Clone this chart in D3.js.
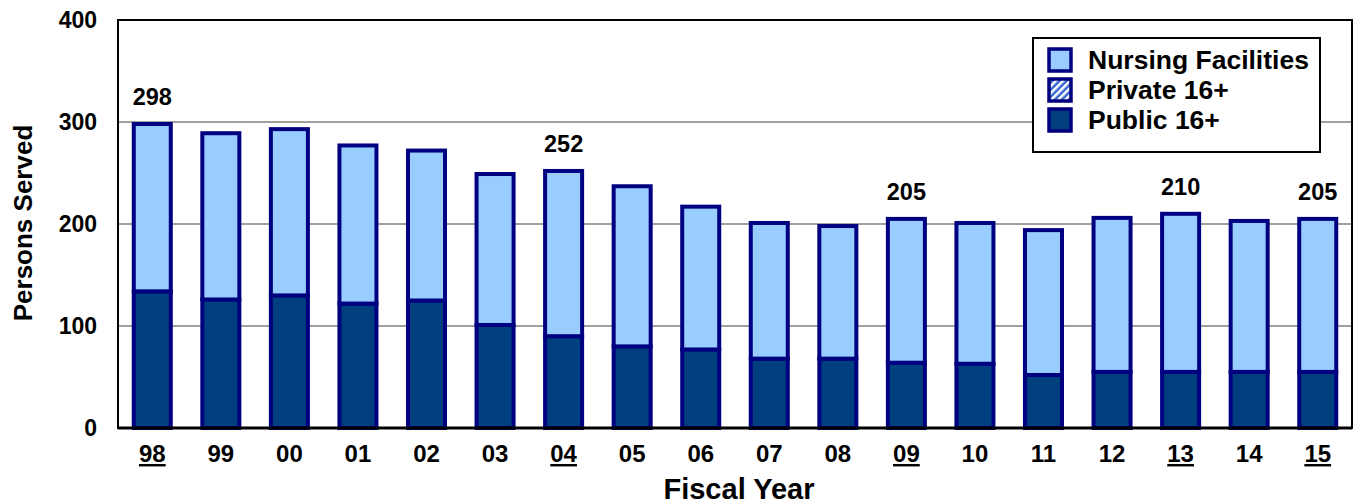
<!DOCTYPE html>
<html>
<head>
<meta charset="utf-8">
<script src="https://cdn.jsdelivr.net/npm/d3@7"></script>
<style>
  body { margin: 0; background: #fff; }
  text { font-family: Arial, "Liberation Sans", sans-serif; font-weight: bold; }
</style>
</head>
<body>
<div id="chart"></div>
<script>
// Data
const years = ["98", "99", "00", "01", "02", "03", "04", "05", "06", "07", "08", "09", "10", "11", "12", "13", "14", "15"];
const publicValues = [134, 126, 130, 122, 125, 101, 90, 80, 77, 68, 68, 64, 63, 52, 55, 55, 55, 55];
const privateValues = [0, 0, 0, 0, 0, 0, 0, 0, 0, 0, 0, 0, 0, 0, 0, 0, 0, 0];
const nursingValues = [164, 163, 163, 155, 147, 148, 162, 157, 140, 133, 130, 141, 138, 142, 151, 155, 148, 150];
const labelledYears = ["98", "04", "09", "13", "15"];
const yTicks = [0, 100, 200, 300, 400];
const seriesNames = ["Nursing Facilities", "Private 16+", "Public 16+"];

// Constants
const WIDTH = 1357;
const HEIGHT = 504;
const MARGIN = {top: 20, right: 5, bottom: 76, left: 118};
const COLOUR_NURSING = "#99ccff";
const COLOUR_PUBLIC = "#003f7f";
const COLOUR_EDGE = "#000080";
const FONT = "Arial, 'Liberation Sans', sans-serif";

let svg = d3.select("#chart")
            .append("svg")
            .attr("width", WIDTH)
            .attr("height", HEIGHT);

// pattern for the private series (hatched)
let defs = svg.append("defs");
let pat = defs.append("pattern")
              .attr("id", "hatch")
              .attr("patternUnits", "userSpaceOnUse")
              .attr("width", 5)
              .attr("height", 5)
              .attr("patternTransform", "rotate(45)");
pat.append("rect").attr("width", 5).attr("height", 5).attr("fill", "#3366cc");
pat.append("rect").attr("width", 2.5).attr("height", 5).attr("fill", "#ffffff");

let x = d3.scaleBand()
          .domain(years)
          .range([MARGIN.left, WIDTH - MARGIN.right])
          .paddingInner(0.46)
          .paddingOuter(0.23);

let y = d3.scaleLinear()
          .domain([0, 400])
          .range([HEIGHT - MARGIN.bottom, MARGIN.top]);

// Gridlines
svg.append("g")
   .selectAll("line")
   .data(yTicks.slice(1, -1))
   .join("line")
   .attr("x1", MARGIN.left)
   .attr("x2", WIDTH - MARGIN.right)
   .attr("y1", d => y(d))
   .attr("y2", d => y(d))
   .attr("stroke", "#808080")
   .attr("stroke-width", 1.5);

// Stack the series
let table = years.map((yr, i) => ({
    year: yr,
    public: publicValues[i],
    private: privateValues[i],
    nursing: nursingValues[i]
}));
let stack = d3.stack().keys(["public", "private", "nursing"]);
let layers = stack(table);
let fills = {public: COLOUR_PUBLIC, private: "url(#hatch)", nursing: COLOUR_NURSING};

svg.append("g")
   .selectAll("g")
   .data(layers)
   .join("g")
   .attr("fill", d => fills[d.key])
   .selectAll("rect")
   .data(d => d.filter(p => p[1] > p[0]))
   .join("rect")
   .attr("x", d => x(d.data.year))
   .attr("width", x.bandwidth())
   .attr("y", d => y(d[1]))
   .attr("height", d => y(d[0]) - y(d[1]))
   .attr("stroke", COLOUR_EDGE)
   .attr("stroke-width", 4);

// Total labels on selected years
svg.append("g")
   .selectAll("text")
   .data(table.filter(d => labelledYears.includes(d.year)))
   .join("text")
   .attr("x", d => x(d.year) + x.bandwidth() / 2)
   .attr("y", d => y(d.public + d.private + d.nursing) - 19)
   .attr("text-anchor", "middle")
   .attr("font-size", 23.5)
   .text(d => d.public + d.private + d.nursing);

// Plot frame
svg.append("rect")
   .attr("x", MARGIN.left)
   .attr("y", MARGIN.top)
   .attr("width", WIDTH - MARGIN.right - MARGIN.left)
   .attr("height", HEIGHT - MARGIN.bottom - MARGIN.top)
   .attr("fill", "none")
   .attr("stroke", "#000")
   .attr("stroke-width", 2);

svg.append("line")
   .attr("x1", MARGIN.left)
   .attr("x2", WIDTH - MARGIN.right)
   .attr("y1", y(0))
   .attr("y2", y(0))
   .attr("stroke", "#000")
   .attr("stroke-width", 3);

// Axes
let yAxis = d3.axisLeft(y).tickValues(yTicks).tickSize(0).tickPadding(21);
svg.append("g")
   .attr("transform", `translate(${MARGIN.left},0)`)
   .call(yAxis)
   .call(g => g.select(".domain").remove())
   .selectAll("text")
   .attr("font-size", 23)
   .attr("font-family", FONT)
   .attr("font-weight", "bold")
   .attr("fill", "#000");

let xAxis = d3.axisBottom(x).tickSize(0).tickPadding(17);
svg.append("g")
   .attr("transform", `translate(0,${y(0)})`)
   .call(xAxis)
   .call(g => g.select(".domain").remove())
   .selectAll("text")
   .attr("font-size", 24)
   .attr("font-family", FONT)
   .attr("font-weight", "bold")
   .attr("fill", "#000")
   .attr("text-decoration", d => labelledYears.includes(d) ? "underline" : null);

// Axis titles
svg.append("text")
   .attr("transform", `translate(32,223) rotate(-90)`)
   .attr("text-anchor", "middle")
   .attr("font-size", 26)
   .text("Persons Served");

svg.append("text")
   .attr("x", 739)
   .attr("y", 499)
   .attr("text-anchor", "middle")
   .attr("font-size", 29)
   .text("Fiscal Year");

// Legend
let legend = svg.append("g").attr("transform", "translate(1033,38)");
legend.append("rect")
      .attr("width", 287)
      .attr("height", 114)
      .attr("fill", "#fff")
      .attr("stroke", "#000")
      .attr("stroke-width", 2);
let legendFills = [COLOUR_NURSING, "url(#hatch)", COLOUR_PUBLIC];
let item = legend.selectAll("g.item")
      .data(seriesNames)
      .join("g")
      .attr("class", "item")
      .attr("transform", (d, i) => `translate(16,${11 + i * 30})`);
item.append("rect")
    .attr("width", 22)
    .attr("height", 22)
    .attr("fill", (d, i) => legendFills[i])
    .attr("stroke", COLOUR_EDGE)
    .attr("stroke-width", 3.5);
item.append("text")
    .attr("x", 39)
    .attr("y", 20)
    .attr("font-size", 26.5)
    .text(d => d);
</script>
</body>
</html>
